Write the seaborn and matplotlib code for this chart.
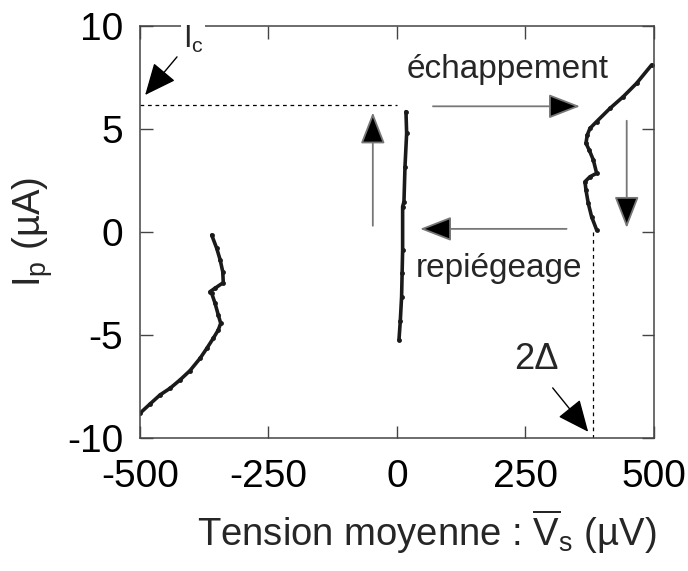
import matplotlib
matplotlib.use('Agg')
import matplotlib.pyplot as plt
import seaborn as sns
import pandas as pd

# branche négative (tension < 0)
neg_v = [-500, -480.5, -461, -441.6, -422, -402.7, -383, -370, -357.4, -347.7, -343,
         -347.7, -354, -360.5, -363.8, -354, -338, -339, -344, -350.8, -360.5]
neg_i = [-8.80, -8.35, -7.91, -7.59, -7.18, -6.73, -6.13, -5.65, -5.16, -4.76, -4.43,
         -4.03, -3.46, -2.98, -2.90, -2.73, -2.46, -1.93, -1.36, -0.79, -0.15]

# branche supraconductrice (V ~ 0)
sup_v = [3.9, 6.5, 9, 10, 11, 11, 13.6, 15.6, 18.8, 17.5]
sup_i = [-5.24, -4.3, -3.14, -2.0, -0.87, 1.23, 1.47, 3.17, 4.79, 5.84]

# branche positive (tension > 0)
pos_v = [388.5, 378.7, 372.2, 367.7, 365.8, 375.5, 388.5, 382, 374, 367.7, 370.3,
         375.5, 388.5, 414.4, 440.3, 466.3, 495.5]
pos_i = [0.10, 0.74, 1.39, 2.04, 2.44, 2.68, 2.85, 3.50, 3.98, 4.31, 4.71,
         5.03, 5.36, 6.00, 6.57, 7.22, 8.11]

ic = 6.17
deux_delta = 381

xticks = [-500, -250, 0, 250, 500]
yticks = [-10, -5, 0, 5, 10]

sns.set_theme(style='ticks')
plt.rcParams['font.family'] = ['Liberation Sans', 'DejaVu Sans']
plt.rcParams['mathtext.fontset'] = 'custom'
plt.rcParams['mathtext.rm'] = 'Liberation Sans'
plt.rcParams['mathtext.it'] = 'Liberation Sans:italic'

fig = plt.figure(figsize=(6.88, 5.71), dpi=100)
ax = fig.add_axes([0.2035, 0.233, 0.747, 0.7215])

branches = [(neg_v, neg_i), (sup_v, sup_i), (pos_v, pos_i)]
for v, i in branches:
    df = pd.DataFrame({'V': v, 'I': i})
    sns.lineplot(data=df, x='V', y='I', sort=False, estimator=None, ax=ax,
                 color='#1a1a1a', lw=2.6, marker='o', markersize=3.5,
                 markeredgewidth=0)

# lignes pointillées
dash = dict(color='black', lw=0.9, ls=(0, (3, 3)))
ax.plot([-500, 0], [ic, ic], **dash)
ax.plot([deux_delta, deux_delta], [0, -10], **dash)

# flèches du cycle
cyc = dict(arrowstyle='-|>,head_length=0.9,head_width=0.35', fc='black',
           ec='#777777', lw=1.3, mutation_scale=22, shrinkA=0, shrinkB=0)
ax.annotate('', xy=(-47, 5.8), xytext=(-47, 0.3), arrowprops=cyc)
ax.annotate('', xy=(356, 6.1), xytext=(70, 6.1), arrowprops=cyc)
ax.annotate('', xy=(447, 0.2), xytext=(447, 5.4), arrowprops=cyc)
ax.annotate('', xy=(45, 0.15), xytext=(330, 0.15), arrowprops=cyc)

fs = 24
ax.text(216, 7.9, 'échappement', fontsize=fs, ha='center', va='center')
ax.text(198, -1.75, 'repiégeage', fontsize=fs, ha='center', va='center')

# annotations Ic et 2Δ
fl = dict(arrowstyle='-|>,head_length=0.9,head_width=0.4', fc='black', ec='black',
          lw=1.0, mutation_scale=22, shrinkA=0, shrinkB=0)
ax.annotate('', xy=(-490, 6.65), xytext=(-428, 8.5), arrowprops=fl)
ax.text(-397, 9.35, r'$\mathrm{I}_{\mathrm{c}}$', fontsize=22, ha='center', va='center',
        bbox=dict(fc='white', ec='none', pad=1), clip_on=False)
ax.annotate('', xy=(372, -9.7), xytext=(303, -7.57), arrowprops=fl)
ax.text(272, -6.2, '2Δ', fontsize=26, ha='center', va='center')

ax.set_xlim(-500, 500)
ax.set_ylim(-10, 10)
ax.set_xticks(xticks)
ax.set_yticks(yticks)
ax.set_xticklabels([str(t) for t in xticks])
ax.set_yticklabels([str(t) for t in yticks])
ax.tick_params(direction='in', top=True, right=True, length=9, width=1,
               color='#444444', labelsize=28, labelcolor='black')
ax.tick_params(axis='x', pad=15)
ax.tick_params(axis='y', pad=12)
for s in ax.spines.values():
    s.set_color('#444444')
    s.set_linewidth(1.1)

ax.set_xlabel(r'Tension moyenne : $\overline{\mathrm{V}}_{\mathrm{s}}$ (µV)', fontsize=27.5)
ax.xaxis.set_label_coords(0.558, -0.17)
ax.set_ylabel(r'$\mathrm{I}_{\mathrm{p}}$ (µA)', fontsize=27.5)
ax.yaxis.set_label_coords(-0.165, 0.5)

fig.savefig('out.png', dpi=100)
